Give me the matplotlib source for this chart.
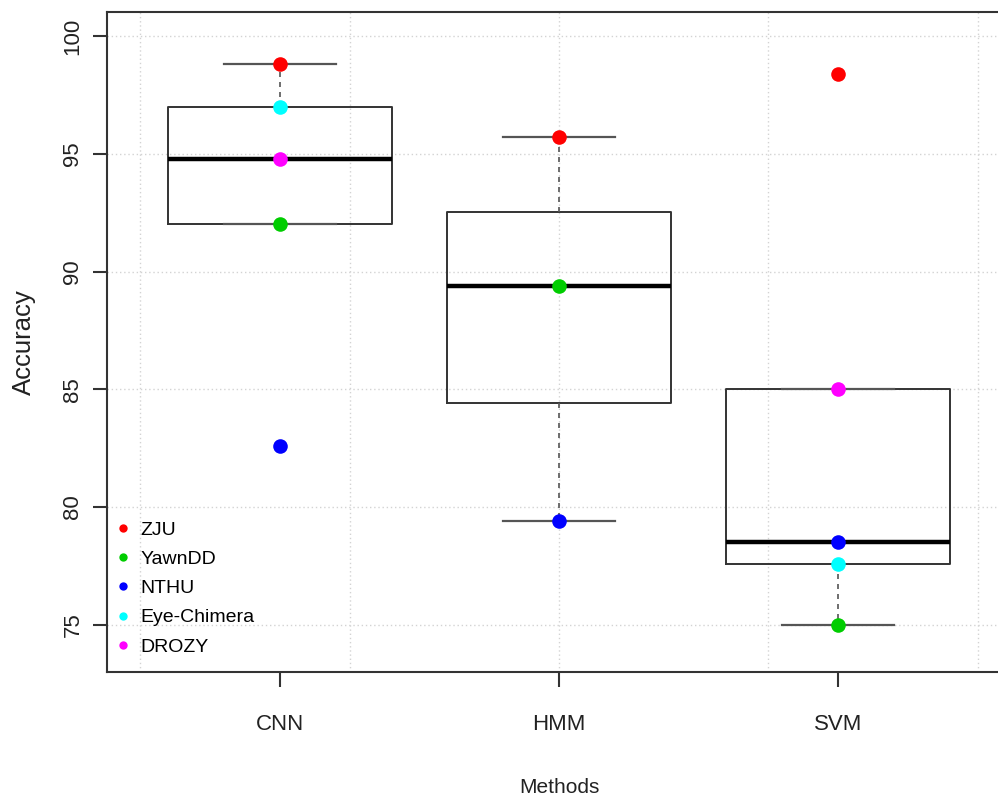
import numpy as np
import matplotlib
matplotlib.use("Agg")
import matplotlib.pyplot as plt
from matplotlib.lines import Line2D

plt.rcParams['font.family'] = ['Liberation Sans', 'DejaVu Sans']

methods = ['CNN', 'HMM', 'SVM']
datasets = ['ZJU', 'YawnDD', 'NTHU', 'Eye-Chimera', 'DROZY']
zju = [98.8, 95.7, 98.4]
yawndd = [92.0, 89.4, 75.0]
nthu = [82.6, 79.4, 78.5]
eye_chimera = [97.0, np.nan, 77.6]
drozy = [94.8, np.nan, 85.0]
point_colors = ['#ff0000', '#00cd00', '#0000ff', '#00ffff', '#ff00ff']

series = [zju, yawndd, nthu, eye_chimera, drozy]
per_method = []
for i in range(len(methods)):
    vals = [s[i] for s in series if not np.isnan(s[i])]
    per_method.append(vals)

fig = plt.figure(figsize=(9.98, 7.97), dpi=100)
ax = fig.add_axes([107 / 998, 125 / 797, 904 / 998, 660 / 797])
ax.set_xlim(0.38, 3.62)
ax.set_ylim(73.0, 101.02)

# grid like R's grid()
for gx in [0.5, 1.25, 2.0, 2.75, 3.5]:
    ax.axvline(gx, color='#d3d3d3', linestyle=(0, (1, 2)), linewidth=1, zorder=0)
for gy in [75, 80, 85, 90, 95, 100]:
    ax.axhline(gy, color='#d3d3d3', linestyle=(0, (1, 2)), linewidth=1, zorder=0)

ax.boxplot(per_method, positions=[1, 2, 3], widths=0.8, capwidths=0.4,
           whis=1.5, showfliers=False, patch_artist=False,
           boxprops=dict(color='#333333', linewidth=1.4),
           whiskerprops=dict(color='#555555', linewidth=1.2, linestyle=(0, (3, 3))),
           capprops=dict(color='#555555', linewidth=1.6),
           medianprops=dict(color='black', linewidth=3.2))

for s, name, c in zip(series, datasets, point_colors):
    xs = [i + 1 for i in range(len(methods)) if not np.isnan(s[i])]
    ys = [v for v in s if not np.isnan(v)]
    ax.plot(xs, ys, 'o', color=c, markersize=10.5, markeredgewidth=0, zorder=5)

ax.set_xticks([1, 2, 3])
ax.set_xticklabels(methods)
ax.set_yticks([75, 80, 85, 90, 95, 100])
ax.set_yticklabels(['75', '80', '85', '90', '95', '100'], rotation=90, va='center')
ax.tick_params(axis='x', length=11, width=1.5, color='#333333', labelsize=16, pad=19, labelcolor='#222222')
ax.tick_params(axis='y', length=10, width=1.5, color='#333333', labelsize=16, pad=7, labelcolor='#222222')
for sp in ax.spines.values():
    sp.set_color('#333333')
    sp.set_linewidth(1.5)

ax.set_xlabel('Methods', fontsize=15, color='#222222', labelpad=31)
ax.set_ylabel('Accuracy', fontsize=18.5, color='#222222', labelpad=19)

handles = [Line2D([], [], marker='o', linestyle='', color=c, markersize=6, markeredgewidth=0)
           for c in point_colors]
ax.legend(handles, datasets, loc='upper left', bbox_to_anchor=(117 / 998, 1 - 521 / 797),
          bbox_transform=fig.transFigure, frameon=False, fontsize=14,
          handlelength=0.6, handletextpad=0.6, labelspacing=0.6,
          borderpad=0, borderaxespad=0)

fig.savefig('out.png', dpi=100)
